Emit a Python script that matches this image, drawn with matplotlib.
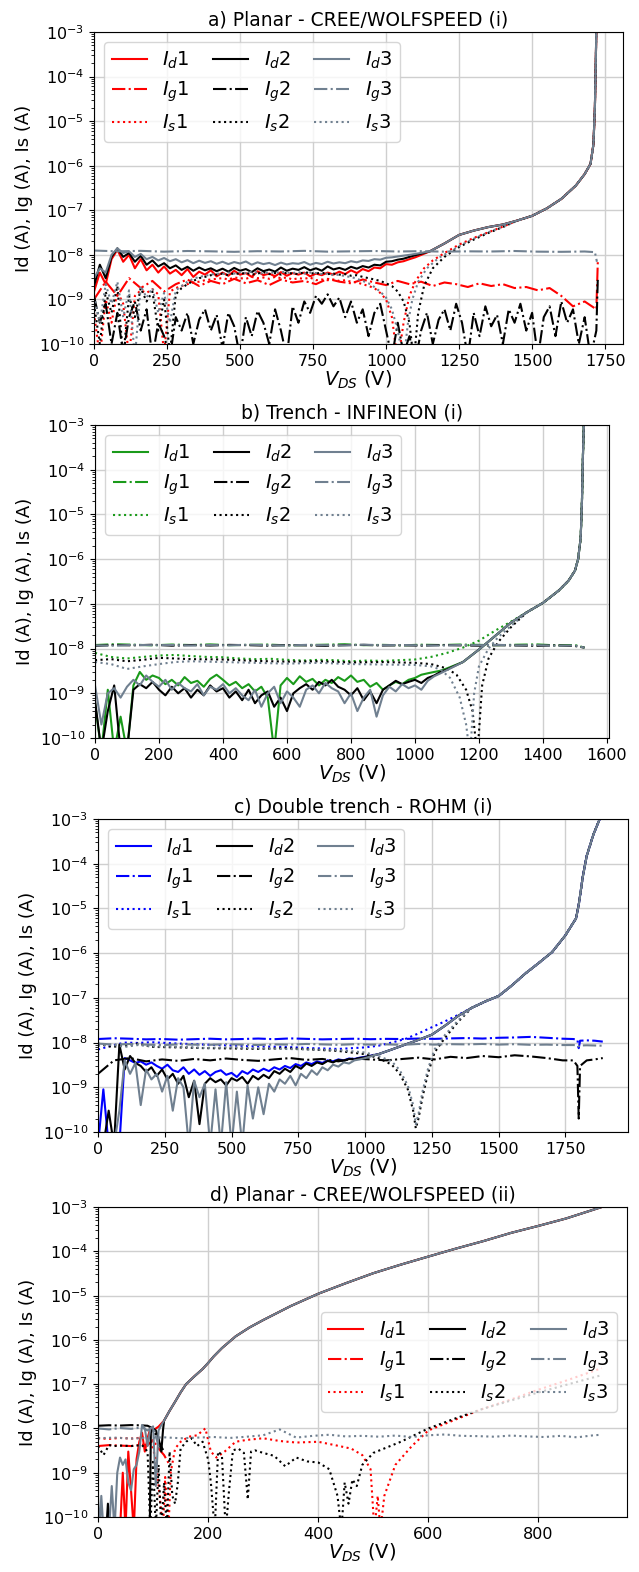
import numpy as np
import matplotlib
matplotlib.use("Agg")
import matplotlib.pyplot as plt

nA = 1e-9

# ---------------- a) Planar - CREE/WOLFSPEED (i)
a_v_low = np.arange(0, 1101, 20)
a_id1 = [1.5, 4.0, 2.2, 8.0, 13.0, 7.0, 10.0, 5.0, 8.0, 4.5,
         6.0, 4.0, 5.5, 3.8, 4.6, 3.5, 4.8, 3.2, 4.2, 3.6,
         4.5, 3.3, 4.0, 3.4, 4.4, 3.6, 3.9, 3.2, 4.3, 3.5,
         3.8, 3.3, 4.1, 3.4, 3.9, 3.6, 4.0, 3.3, 3.8, 3.5,
         4.0, 3.6, 4.2, 3.7, 4.5, 3.9, 4.8, 4.3, 5.2, 5.0,
         6.2, 6.0, 6.8, 7.2, 8.0, 8.8]
a_id2 = [2.0, 6.0, 3.0, 9.0, 14.0, 9.0, 11.0, 7.0, 9.5, 6.0,
         7.5, 5.5, 6.5, 5.0, 5.8, 4.6, 5.4, 4.4, 5.2, 4.5,
         5.0, 4.3, 4.9, 4.2, 5.1, 4.4, 4.8, 4.1, 5.0, 4.3,
         4.7, 4.2, 5.2, 4.4, 4.9, 4.6, 5.3, 4.5, 5.0, 4.4,
         5.5, 4.7, 5.1, 4.6, 5.4, 4.9, 5.6, 5.2, 6.0, 5.8,
         7.0, 7.2, 7.8, 8.2, 9.0, 9.8]
a_id3 = [3.0, 5.0, 4.0, 10.0, 14.0, 11.0, 12.0, 9.0, 10.5, 8.0,
         9.0, 7.5, 8.5, 7.2, 8.0, 6.8, 7.6, 6.5, 7.4, 6.6,
         7.2, 6.3, 7.0, 6.2, 6.9, 6.4, 7.1, 6.0, 6.8, 6.2,
         6.6, 5.9, 6.7, 6.1, 6.5, 6.3, 6.9, 6.0, 6.6, 6.2,
         7.0, 6.4, 6.8, 6.5, 7.2, 6.8, 7.5, 7.3, 8.0, 7.8,
         8.6, 8.8, 9.2, 9.6, 10.0, 10.5]
a_bd_v = [1150, 1200, 1250, 1300, 1350, 1400, 1450, 1500, 1550, 1600,
          1650, 1680, 1700, 1710, 1715, 1718, 1720]
a_bd_i = [1.2e-8, 1.8e-8, 2.8e-8, 3.5e-8, 4.2e-8, 4.8e-8, 5.9e-8, 7.5e-8, 1.1e-7, 1.8e-7,
          3.6e-7, 6.5e-7, 1.1e-6, 3e-6, 2e-5, 2e-4, 1.2e-3]

a_ig1_v = np.append(np.arange(0, 1721, 40), 1725)
a_ig1 = [1.0, 2.5, 1.2, 3.0, 1.8, 2.6, 1.5, 2.2, 2.8, 2.0,
         2.6, 2.2, 2.9, 2.3, 2.7, 2.1, 2.8, 2.4, 2.6, 2.2,
         2.9, 2.5, 2.3, 2.8, 2.4, 2.1, 2.6, 2.2, 2.5, 2.0,
         2.4, 2.2, 1.9, 2.3, 2.0, 2.2, 1.8, 1.9, 1.6, 1.8,
         1.2, 0.7, 0.9, 0.6, 7.0]
a_ig2_v = np.append(np.arange(0, 1721, 20), 1725)
a_ig2 = [1.2, 0.3, 0.8, 0.1, 0.5, 0.06, 0.4, 0.9, 0.2, 0.6,
         0.05, 0.3, 0.15, 0.05, 0.4, 0.2, 0.5, 0.1, 0.35, 0.6,
         0.2, 0.45, 0.08, 0.5, 0.25, 0.05, 0.4, 0.15, 0.55, 0.3,
         0.1, 0.6, 0.2, 0.05, 0.7, 0.3, 0.9, 0.5, 1.2, 0.8,
         1.3, 0.7, 1.1, 0.4, 0.9, 0.3, 0.6, 0.15, 0.5, 0.8,
         0.2, 0.05, 0.3, 0.06, 0.15, 0.04, 0.2, 0.5, 0.1, 0.35,
         0.6, 0.2, 0.8, 0.3, 0.05, 0.5, 0.15, 0.7, 0.25, 0.45,
         0.1, 0.6, 0.3, 0.8, 0.2, 0.5, 0.05, 0.4, 0.7, 0.15,
         0.9, 0.3, 0.6, 0.1, 0.4, 0.05, 0.2, 3.0]
a_ig3_v = np.append(np.arange(0, 1681, 80), [1715, 1722])
a_ig3 = [12.5, 12.0, 12.3, 11.8, 12.2, 12.0, 11.7, 12.1, 11.9, 12.3,
         11.8, 12.0, 12.2, 11.9, 12.1, 11.8, 12.0, 11.9, 12.2, 11.8,
         11.7, 11.9, 11.5, 7.0]

a_is_v_low = np.arange(0, 1001, 20)
a_is1 = [0.5, 0.05, 1.0, 0.3, 1.5, 0.8, 0.05, 1.2, 1.6, 1.4,
         1.7, 1.3, 0.06, 1.5, 1.8, 2.0, 2.2, 2.4, 2.5, 2.7,
         2.8, 2.9, 3.0, 2.8, 3.1, 3.0, 2.9, 3.2, 3.0, 3.1,
         2.9, 3.2, 3.0, 3.1, 2.8, 3.0, 2.9, 3.1, 2.7, 2.8,
         2.7, 2.8, 2.6, 2.7, 2.5, 2.4, 2.2, 2.0, 1.8, 1.4,
         1.0]
a_is1_tv = [1020, 1040, 1060, 1080, 1100, 1130, 1160, 1200, 1250, 1300, 1350, 1400]
a_is1_t = [0.4, 0.04, 0.3, 1.2, 2.5, 5.0, 7.5, 11, 17, 24, 32, 43]
a_is2 = [0.8, 0.1, 1.5, 0.5, 2.0, 0.05, 1.2, 0.4, 1.8, 0.9,
         1.5, 0.2, 1.0, 0.06, 1.3, 1.8, 2.2, 2.6, 3.0, 3.2,
         3.5, 3.6, 3.8, 3.5, 3.9, 3.7, 4.0, 3.6, 3.8, 4.1,
         3.7, 3.9, 3.6, 4.0, 3.8, 3.7, 4.1, 3.9, 3.8, 4.0,
         3.7, 3.8, 3.6, 3.7, 3.4, 3.5, 3.2, 3.0, 2.8, 2.6,
         2.3]
a_is2_tv = [1020, 1040, 1060, 1080, 1095, 1110, 1130, 1160, 1200, 1250, 1300, 1350, 1400]
a_is2_t = [2.0, 1.5, 0.9, 0.3, 0.04, 0.5, 2.0, 5.0, 9.0, 15, 22, 31, 42]
a_is3 = [1.2, 0.3, 2.2, 0.8, 2.5, 0.4, 1.6, 0.05, 2.0, 1.1,
         1.8, 0.5, 1.4, 0.3, 1.6, 2.0, 2.5, 2.9, 3.2, 3.4,
         3.6, 3.8, 3.7, 4.0, 3.8, 4.1, 3.9, 4.2, 4.0, 3.8,
         4.1, 3.9, 4.2, 4.0, 3.9, 4.1, 3.8, 4.0, 3.9, 3.7,
         3.8, 3.5, 3.6, 3.3, 3.2, 2.9, 2.6, 2.3, 1.9, 1.5,
         1.1]
a_is3_tv = [1020, 1040, 1060, 1075, 1090, 1110, 1140, 1180, 1220, 1260, 1300, 1350, 1400]
a_is3_t = [0.6, 0.2, 0.04, 0.3, 1.0, 2.5, 5.0, 8.5, 12, 17, 23, 32, 43]

# ---------------- b) Trench - INFINEON (i)
b_v_low = np.arange(0, 1101, 20)
b_id1 = [0.6, 0.05, 1.2, 0.05, 0.3, 0.05, 1.5, 3.0, 2.0, 2.5,
         2.2, 1.6, 2.0, 1.5, 2.3, 1.7, 1.9, 1.4, 2.1, 2.6,
         2.0, 1.5, 1.8, 1.3, 1.6, 1.1, 1.4, 0.8, 0.05, 1.5,
         2.2, 1.6, 2.4, 1.8, 2.1, 1.5, 2.0, 1.7, 2.3, 1.9,
         2.5, 1.8, 2.0, 1.4, 1.7, 1.2, 1.5, 1.8, 1.6, 2.0,
         2.2, 2.6, 2.8, 3.0, 3.2, 3.6]
b_id2 = [0.7, 0.05, 0.4, 1.5, 0.05, 0.05, 1.2, 1.6, 1.3, 1.8,
         1.2, 0.9, 1.4, 1.0, 1.3, 0.8, 1.2, 0.9, 1.5, 1.1,
         1.3, 0.8, 1.1, 0.7, 1.2, 0.6, 0.9, 1.1, 0.5, 0.8,
         0.4, 1.0, 1.3, 1.6, 1.2, 1.8, 1.5, 2.0, 1.4, 1.2,
         0.9, 1.3, 0.7, 1.1, 0.6, 1.2, 1.5, 1.9, 1.6, 1.8,
         2.0, 1.7, 2.2, 2.5, 3.0, 3.4]
b_id3 = [1.5, 0.2, 1.0, 1.3, 0.8, 1.4, 2.0, 1.5, 2.5, 1.8,
         1.4, 2.0, 1.2, 1.7, 1.3, 1.1, 1.6, 0.9, 1.4, 1.2,
         1.6, 1.0, 1.3, 0.9, 0.7, 1.2, 0.5, 1.0, 1.4, 0.6,
         1.1, 0.8, 0.5, 1.2, 1.5, 1.0, 1.7, 1.3, 1.1, 0.6,
         1.0, 0.4, 0.8, 1.2, 0.3, 0.9, 1.4, 1.1, 1.6, 1.3,
         1.5, 1.2, 1.9, 2.4, 2.8, 3.3]
b_bd_v = [1150, 1200, 1250, 1300, 1350, 1400, 1450, 1480, 1500, 1510, 1518, 1522, 1525, 1528]
b_bd_i = [5.0e-9, 9.5e-9, 1.9e-8, 3.8e-8, 6.5e-8, 1.05e-7, 2.0e-7, 3.3e-7, 5.5e-7, 1.0e-6,
          3e-6, 2e-5, 2e-4, 1.1e-3]

b_ig_v = np.append(np.arange(0, 1501, 60), 1530)
b_ig1 = [12.0, 12.5, 12.2, 11.8, 12.3, 12.0, 12.4, 11.9, 12.1, 12.3,
         11.8, 12.0, 12.2, 12.5, 11.9, 12.1, 11.8, 12.2, 12.0, 12.3,
         12.1, 11.9, 12.2, 12.4, 11.8, 12.0, 10.5]
b_ig2 = [11.5, 12.0, 11.8, 12.2, 11.6, 12.0, 11.7, 12.1, 11.9, 11.6,
         12.0, 11.8, 11.5, 11.9, 12.1, 11.7, 11.9, 11.6, 12.0, 11.8,
         11.6, 11.9, 11.7, 11.5, 11.8, 11.4, 10.5]
b_ig3 = [11.8, 11.6, 12.1, 11.9, 12.0, 11.7, 12.0, 11.8, 12.2, 11.9,
         11.7, 12.1, 11.9, 11.8, 12.2, 11.9, 12.0, 11.8, 11.7, 12.0,
         11.9, 12.1, 11.8, 11.9, 11.6, 11.7, 10.5]

b_is1_v = [0, 50, 100, 150, 200, 250, 300, 350, 400, 450, 500, 550, 600, 650,
           700, 750, 800, 850, 900, 950, 1000, 1050, 1100, 1150, 1200, 1250, 1300]
b_is1 = [8.0, 6.5, 6.0, 6.5, 7.0, 7.2, 6.8, 6.5, 6.4, 6.0, 5.8, 5.9, 5.6, 5.4,
         5.6, 5.5, 5.2, 5.4, 5.3, 5.5, 5.7, 6.5, 8.0, 10.5, 15, 25, 40]
b_is2_v = [0, 50, 100, 150, 200, 250, 300, 400, 500, 600, 700, 800, 900, 1000,
           1050, 1100, 1130, 1160, 1180, 1195, 1210, 1230, 1260, 1300]
b_is2 = [5.5, 5.8, 5.2, 5.6, 6.2, 6.0, 5.8, 5.7, 5.3, 5.1, 5.2, 4.9, 5.0, 4.8,
         4.5, 3.6, 2.6, 1.2, 0.4, 0.04, 1.5, 6.0, 14, 30]
b_is3_v = [0, 50, 100, 150, 200, 250, 300, 400, 500, 600, 700, 800, 900, 1000,
           1050, 1080, 1110, 1140, 1160, 1172, 1185, 1200, 1230, 1260, 1300]
b_is3 = [5.0, 4.5, 3.5, 4.0, 4.5, 5.0, 5.2, 5.0, 4.8, 4.6, 4.8, 4.5, 4.4, 4.3,
         4.0, 3.4, 2.2, 0.8, 0.2, 0.04, 1.0, 4.0, 10, 18, 32]

# ---------------- c) Double trench - ROHM (i)
c_v_low = np.arange(0, 1001, 20)
c_id1 = [0.05, 0.9, 0.05, 0.05, 0.05, 4.5, 4.0, 3.5, 3.8, 3.2,
         3.6, 3.0, 2.6, 3.2, 2.4, 2.2, 2.8, 2.0, 2.5, 1.9,
         2.3, 1.8, 2.2, 2.4, 1.9, 2.1, 1.7, 2.3, 2.0, 2.5,
         2.2, 2.6, 2.3, 2.8, 2.5, 3.0, 2.7, 3.3, 3.0, 3.6,
         3.3, 3.8, 3.5, 4.0, 3.8, 4.2, 4.0, 4.4, 4.3, 4.6,
         4.8]
c_id2 = [0.05, 0.05, 0.3, 0.05, 9.0, 2.5, 5.0, 3.5, 3.0, 2.2,
         2.8, 1.8, 2.5, 1.5, 2.0, 1.2, 1.8, 0.6, 1.4, 0.15,
         1.2, 1.6, 1.3, 1.5, 1.1, 1.6, 1.4, 1.7, 1.2, 1.8,
         1.5, 1.9, 1.6, 2.3, 2.0, 2.6, 2.2, 3.0, 2.6, 3.4,
         3.0, 3.6, 3.3, 3.9, 3.6, 4.1, 3.9, 4.3, 4.2, 4.5,
         4.7]
c_id3 = [0.05, 0.05, 0.05, 0.05, 0.3, 4.0, 2.0, 3.5, 0.4, 2.5,
         1.5, 2.0, 0.8, 1.8, 0.3, 1.6, 1.0, 0.05, 1.4, 0.6,
         1.2, 0.05, 0.9, 0.05, 1.3, 0.05, 0.8, 0.05, 1.1, 0.2,
         1.0, 0.25, 1.2, 0.8, 1.5, 1.2, 1.8, 1.1, 2.0, 1.6,
         2.4, 1.9, 2.8, 2.4, 3.2, 2.9, 3.6, 3.4, 4.0, 4.2,
         4.5]
c_bd_v = [1050, 1100, 1150, 1200, 1250, 1300, 1350, 1400, 1450, 1500, 1550,
          1600, 1650, 1700, 1750, 1790, 1800, 1815, 1830, 1855, 1880]
c_bd_i = [5.5e-9, 7e-9, 9e-9, 1.15e-8, 1.5e-8, 2.4e-8, 4e-8, 6e-8, 8.3e-8, 1.1e-7, 1.9e-7,
          3.5e-7, 6e-7, 1.05e-6, 2.5e-6, 6e-6, 1.2e-5, 5e-5, 1.5e-4, 4.5e-4, 1.05e-3]

c_ig_v = np.append(np.arange(0, 1741, 60), [1780, 1795, 1800, 1805, 1830, 1860, 1890])
c_ig1 = [12.0, 12.5, 12.2, 11.8, 12.0, 11.6, 11.9, 12.2, 11.8, 12.0,
         12.3, 11.9, 12.4, 12.1, 11.8, 12.0, 12.2, 11.9, 12.1, 12.0,
         12.3, 12.1, 12.4, 12.6, 12.3, 12.8, 13.0, 13.4, 12.8, 12.2,
         12.0, 11.5, 7.5, 11.0, 11.2, 11.0, 10.5]
c_ig2 = [2.0, 4.0, 4.5, 3.8, 4.2, 3.9, 4.3, 4.0, 4.4, 4.1,
         3.9, 4.2, 4.5, 4.1, 4.3, 3.8, 4.4, 4.2, 4.0, 4.3,
         4.6, 4.2, 4.8, 4.5, 5.0, 4.7, 5.2, 4.9, 4.5, 4.0,
         4.0, 3.0, 0.2, 3.0, 4.0, 4.2, 4.5]
c_ig3 = [9.5, 9.0, 9.3, 9.0, 8.8, 9.1, 9.0, 8.9, 9.2, 9.0,
         8.8, 9.1, 9.0, 9.3, 9.1, 8.9, 9.2, 9.0, 9.1, 8.9,
         9.3, 9.0, 9.2, 9.1, 9.3, 9.0, 9.2, 8.9, 9.0, 8.8,
         8.8, 8.7, 8.2, 8.6, 8.7, 8.6, 8.5]

c_is1_v = [0, 50, 100, 150, 200, 300, 400, 500, 600, 700, 800, 900, 1000,
           1050, 1100, 1150, 1200, 1250, 1300, 1350]
c_is1 = [7.0, 8.5, 10.0, 9.8, 10.2, 9.5, 9.0, 8.6, 8.2, 8.0, 7.5, 7.2, 7.8,
         8.5, 10.0, 12, 16, 22, 30, 42]
c_is23_v = [0, 50, 100, 150, 200, 300, 400, 500, 600, 700, 800, 900, 1000,
            1050, 1100, 1130, 1160, 1180, 1190, 1200, 1215, 1235, 1260, 1300, 1350]
c_is2 = [9.5, 8.0, 8.5, 9.5, 8.0, 7.8, 7.5, 7.4, 7.2, 7.5, 7.0, 6.5, 5.5,
         4.5, 3.2, 2.0, 0.9, 0.3, 0.12, 0.2, 0.6, 2.0, 6.0, 13, 30]
c_is3 = [8.5, 9.0, 8.0, 8.8, 8.2, 8.0, 7.6, 7.8, 7.4, 7.2, 7.0, 6.8, 6.0,
         5.0, 3.8, 2.4, 1.1, 0.4, 0.15, 0.25, 0.8, 2.5, 7.0, 15, 32]

# ---------------- d) Planar - CREE/WOLFSPEED (ii)
d_bd_v = [120, 130, 140, 150, 160, 175, 190, 200, 210, 225,
          250, 275, 300, 350, 400, 450, 500, 550, 600, 650,
          700, 750, 800, 850, 915]
d_bd_i = [1.5e-8, 2.5e-8, 4e-8, 6.5e-8, 1e-7, 1.5e-7, 2.2e-7, 3e-7, 4.2e-7, 6.5e-7,
          1.2e-6, 1.9e-6, 2.8e-6, 5.8e-6, 1.1e-5, 1.9e-5, 3.2e-5, 5e-5, 7.6e-5, 1.15e-4,
          1.7e-4, 2.6e-4, 3.75e-4, 5.5e-4, 1e-3]
d_id1_v = [0, 40, 45, 50, 55, 60, 65, 70, 75, 80, 85, 90, 95, 100, 110]
d_id1 = [0.05, 0.05, 1.0, 0.05, 3.0, 0.4, 0.05, 2.0, 5.0, 8.0, 3.0, 6.0, 10.0, 9.0, 11.0]
d_id2_v = [0, 15, 18, 22, 30, 60, 90, 94, 96, 100, 105, 110, 115, 118]
d_id2 = [0.05, 0.05, 0.2, 0.05, 0.05, 0.05, 0.05, 0.05, 8.0, 10.0, 9.0, 6.0, 3.0, 9.0]
d_id3_v = [0, 3, 6, 10, 20, 25, 30, 35, 40, 45, 50, 55, 60, 65, 70, 75, 80, 85,
           90, 95, 100, 105, 110, 115]
d_id3 = [0.3, 0.05, 0.3, 0.05, 0.05, 0.5, 0.05, 1.0, 2.2, 1.5, 2.0, 0.6, 0.4, 1.2,
         1.5, 3.0, 12.0, 10.0, 4.0, 10.0, 11.0, 0.5, 9.0, 12.0]

d_ig1_v = [0, 20, 40, 60, 80, 90, 100, 110, 120, 130]
d_ig1 = [4.0, 4.2, 4.1, 4.0, 4.3, 4.2, 5.5, 3.5, 2.5, 1.5]
d_ig2_v = [0, 20, 40, 60, 80, 90, 100, 110, 120]
d_ig2 = [11.5, 11.8, 11.6, 11.9, 11.7, 11.5, 10.0, 5.0, 3.0]
d_ig3_v = [0, 20, 40, 60, 80, 90, 100, 110]
d_ig3 = [10.0, 9.5, 10.2, 9.8, 10.5, 9.0, 11.0, 4.0]

d_is1_v = [0, 20, 40, 60, 80, 95, 105, 112, 118, 122, 128, 132, 140, 150, 165,
           180, 195, 205, 215, 230, 250, 270, 300, 330, 360, 400, 430, 460, 480,
           495, 502, 508, 513, 520, 540, 570, 600, 650, 700, 750, 800, 850, 915]
d_is1 = [6.0, 5.8, 6.1, 5.9, 6.2, 6.0, 2.0, 0.3, 0.05, 0.8, 0.05, 1.0, 3.5, 5.0, 6.5,
         7.0, 10.0, 3.0, 2.2, 3.0, 5.0, 5.5, 6.0, 5.2, 4.8, 5.0, 4.2, 3.5, 2.5,
         1.2, 0.05, 0.3, 0.05, 0.3, 1.5, 4.0, 9.0, 16, 28, 45, 75, 120, 230]
d_is2_v = [0, 10, 20, 30, 40, 60, 80, 90, 95, 100, 105, 110, 115, 120, 125, 130,
           135, 140, 145, 150, 160, 170, 180, 190, 200, 205, 212, 218, 225, 232,
           238, 245, 255, 265, 272, 278, 285, 300, 320, 340, 360, 380, 400, 420,
           435, 442, 448, 455, 462, 470, 480, 500, 550, 600, 650, 700, 800, 915]
d_is2 = [4.0, 2.5, 4.2, 4.0, 4.1, 4.0, 4.2, 3.0, 0.05, 2.0, 0.05, 1.5, 0.05, 0.6,
         0.05, 3.0, 0.3, 0.2, 0.6, 3.5, 5.0, 6.0, 4.0, 5.0, 2.0, 0.6, 0.05, 3.0,
         2.5, 0.05, 0.4, 3.2, 3.5, 2.8, 0.25, 3.0, 3.2, 2.8, 2.4, 1.4, 2.2, 1.8,
         1.7, 1.2, 0.3, 0.05, 0.6, 0.2, 0.7, 0.5, 1.5, 2.8, 5.0, 10, 17, 28, 65, 160]
d_is3_v = np.append(np.arange(0, 901, 30), 915)
d_is3 = [6.0, 6.2, 5.9, 6.1, 6.3, 6.0, 6.2, 6.4, 6.1, 6.5,
         7.0, 9.5, 6.2, 6.8, 7.2, 6.6, 6.8, 6.5, 6.9, 6.4,
         7.0, 7.3, 6.8, 6.7, 6.5, 6.9, 6.6, 6.4, 6.8, 6.3,
         7.0, 7.2]


def join(v1, i1_nA, v2, i2):
    return (np.concatenate([np.asarray(v1, float), np.asarray(v2, float)]),
            np.concatenate([np.asarray(i1_nA) * nA, np.asarray(i2)]))


def tail(bd_v, bd_i, vmin):
    bd_v = np.asarray(bd_v, float)
    m = bd_v > vmin
    return bd_v[m], np.asarray(bd_i)[m]


def low_tail(v_low, vals, tv, tvals, bd_v, bd_i, vmin):
    v = np.concatenate([v_low, tv])
    i = np.concatenate([vals, tvals])
    return join(v, i, *tail(bd_v, bd_i, vmin))


panels = []

panels.append(dict(
    title='a) Planar - CREE/WOLFSPEED (i)', c1='red', xmax=1725, loc='upper left',
    d=[join(a_v_low, a_id1, a_bd_v, a_bd_i), join(a_v_low, a_id2, a_bd_v, a_bd_i),
       join(a_v_low, a_id3, a_bd_v, a_bd_i)],
    g=[(a_ig1_v, np.array(a_ig1) * nA), (a_ig2_v, np.array(a_ig2) * nA),
       (a_ig3_v, np.array(a_ig3) * nA)],
    s=[low_tail(a_is_v_low, a_is1, a_is1_tv, a_is1_t, a_bd_v, a_bd_i, 1400),
       low_tail(a_is_v_low, a_is2, a_is2_tv, a_is2_t, a_bd_v, a_bd_i, 1400),
       low_tail(a_is_v_low, a_is3, a_is3_tv, a_is3_t, a_bd_v, a_bd_i, 1400)],
    box=(94, 623, 32, 344)))

panels.append(dict(
    title='b) Trench - INFINEON (i)', c1='#1a9a1a', xmax=1530, loc='upper left',
    d=[join(b_v_low, b_id1, b_bd_v, b_bd_i), join(b_v_low, b_id2, b_bd_v, b_bd_i),
       join(b_v_low, b_id3, b_bd_v, b_bd_i)],
    g=[(b_ig_v, np.array(b_ig1) * nA), (b_ig_v, np.array(b_ig2) * nA),
       (b_ig_v, np.array(b_ig3) * nA)],
    s=[join(b_is1_v, b_is1, *tail(b_bd_v, b_bd_i, 1300)),
       join(b_is2_v, b_is2, *tail(b_bd_v, b_bd_i, 1300)),
       join(b_is3_v, b_is3, *tail(b_bd_v, b_bd_i, 1300))],
    box=(95, 609, 425, 738)))

panels.append(dict(
    title='c) Double trench - ROHM (i)', c1='blue', xmax=1890, loc='upper left',
    d=[join(c_v_low, c_id1, c_bd_v, c_bd_i), join(c_v_low, c_id2, c_bd_v, c_bd_i),
       join(c_v_low, c_id3, c_bd_v, c_bd_i)],
    g=[(c_ig_v, np.array(c_ig1) * nA), (c_ig_v, np.array(c_ig2) * nA),
       (c_ig_v, np.array(c_ig3) * nA)],
    s=[join(c_is1_v, c_is1, *tail(c_bd_v, c_bd_i, 1350)),
       join(c_is23_v, c_is2, *tail(c_bd_v, c_bd_i, 1350)),
       join(c_is23_v, c_is3, *tail(c_bd_v, c_bd_i, 1350))],
    box=(98, 628, 819, 1132)))

panels.append(dict(
    title='d) Planar - CREE/WOLFSPEED (ii)', c1='red', xmax=915, loc='center right',
    d=[join(d_id1_v, d_id1, d_bd_v, d_bd_i), join(d_id2_v, d_id2, d_bd_v, d_bd_i),
       join(d_id3_v, d_id3, d_bd_v, d_bd_i)],
    g=[(d_ig1_v, np.array(d_ig1) * nA), (d_ig2_v, np.array(d_ig2) * nA),
       (d_ig3_v, np.array(d_ig3) * nA)],
    s=[(d_is1_v, np.array(d_is1) * nA), (d_is2_v, np.array(d_is2) * nA),
       (d_is3_v, np.array(d_is3) * nA)],
    box=(98, 627, 1207, 1517)))

W, H = 639, 1572
fig = plt.figure(figsize=(W / 100, H / 100), dpi=100)

for p in panels:
    l, r, t, b = p['box']
    ax = fig.add_axes([l / W, 1 - b / H, (r - l) / W, (b - t) / H])
    colors = [p['c1'], 'black', 'slategray']
    for k in range(3):
        ax.plot(*p['d'][k], color=colors[k], ls='-', lw=1.5, label=r'$I_d$%d' % (k + 1))
        ax.plot(*p['g'][k], color=colors[k], ls='-.', lw=1.5, label=r'$I_g$%d' % (k + 1))
        ax.plot(*p['s'][k], color=colors[k], ls=':', lw=1.5, label=r'$I_s$%d' % (k + 1))
    ax.set_yscale('log')
    ax.set_ylim(1e-10, 1e-3)
    ax.set_xlim(0, p['xmax'] * 1.05)
    ax.grid(True, which='major', color='#cfcfcf', lw=1.0)
    ax.tick_params(labelsize=11.5)
    ax.set_title(p['title'], fontsize=13.5, pad=5)
    ax.set_xlabel('$V_{DS}$ (V)', fontsize=14, labelpad=0)
    ax.set_ylabel('Id (A), Ig (A), Is (A)', fontsize=13)
    ax.legend(loc=p['loc'], ncol=3, fontsize=14, handlelength=1.8,
              columnspacing=1.2, labelspacing=0.45)

fig.savefig('out.png', dpi=100)
